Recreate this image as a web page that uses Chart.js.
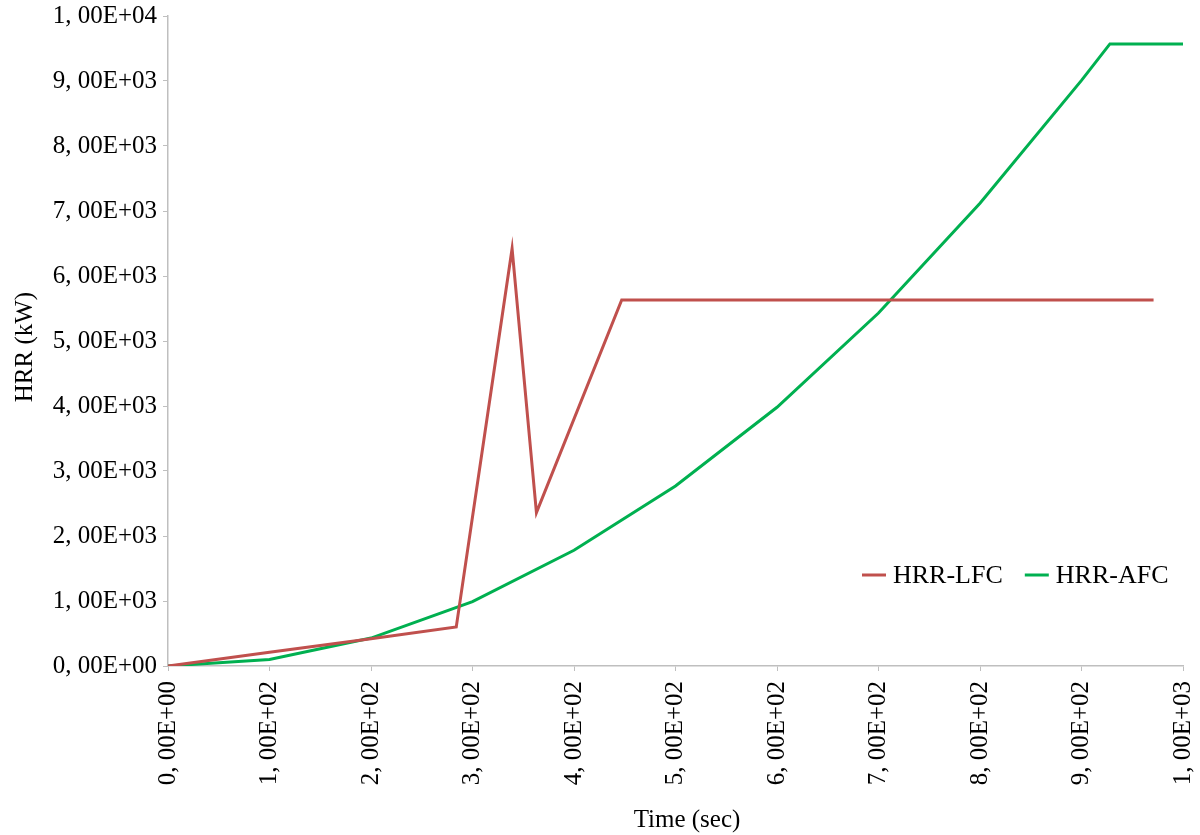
<!DOCTYPE html>
<html>
<head>
<meta charset="utf-8">
<title>HRR</title>
<script src="https://cdn.jsdelivr.net/npm/chart.js@4.4.1/dist/chart.umd.min.js"></script>
<style>
    body { margin: 0; background: #fff; }
    canvas { display: block; }
</style>
</head>
<body>
<canvas id="hrrChart" width="1200" height="835"></canvas>
<script>
// Data
const lfcTime = [0, 100, 200, 284, 339, 363, 447, 971];
const lfcHrr = [0, 210, 420, 600, 6420, 2360, 5630, 5630];
const afcTime = [0, 100, 200, 300, 400, 500, 600, 700, 800, 900, 928, 1000];
const afcHrr = [0, 100, 430, 990, 1780, 2770, 3980, 5430, 7120, 9010, 9570, 9570];

const seriesLabels = ['HRR-LFC', 'HRR-AFC'];
const seriesColors = ['#c0504d', '#00b050'];
const xTitle = 'Time (sec)';
const yTitle = 'HRR (kW)';

const axisColor = '#bfbfbf';
const fontFamily = '"Liberation Serif", "Times New Roman", serif';

// "1, 00E+04" style labels
function sciLabel(value) {
    if (value === 0) return '0, 00E+00';
    const exp = Math.floor(Math.log10(value) + 1e-9);
    const mant = value / Math.pow(10, exp);
    const e = String(exp).padStart(2, '0');
    return mant.toFixed(2).replace('.', ', ') + 'E+' + e;
}

function toPoints(xs, ys) {
    return xs.map((x, i) => ({ x: x, y: ys[i] }));
}

// Legend drawn inside the plot, right side
const insideLegend = {
    id: 'insideLegend',
    afterDraw(chart) {
        const ctx = chart.ctx;
        let x = 862;
        const y = 575;
        ctx.save();
        ctx.font = '26px ' + fontFamily;
        ctx.textBaseline = 'middle';
        ctx.textAlign = 'left';
        chart.data.datasets.forEach(ds => {
            ctx.strokeStyle = ds.borderColor;
            ctx.lineWidth = 3;
            ctx.beginPath();
            ctx.moveTo(x, y);
            ctx.lineTo(x + 24, y);
            ctx.stroke();
            x += 31;
            ctx.fillStyle = '#000';
            ctx.fillText(ds.label, x, y + 1);
            x += ctx.measureText(ds.label).width + 22;
        });
        ctx.restore();
    }
};

// Axis titles, placed like the original (slightly off-centre)
const axisTitles = {
    id: 'axisTitles',
    afterDraw(chart) {
        const ctx = chart.ctx;
        ctx.save();
        ctx.font = '25px ' + fontFamily;
        ctx.fillStyle = '#000';
        ctx.textAlign = 'center';
        ctx.textBaseline = 'alphabetic';
        ctx.fillText(xTitle, 687, 827);
        ctx.translate(32, 347);
        ctx.rotate(-Math.PI / 2);
        ctx.fillText(yTitle, 0, 0);
        ctx.restore();
    }
};

const ctx = document.getElementById('hrrChart').getContext('2d');

const hrrChart = new Chart(ctx, {
    type: 'line',
    data: {
        datasets: [{
            label: seriesLabels[0],
            data: toPoints(lfcTime, lfcHrr),
            borderColor: seriesColors[0],
            borderWidth: 3,
            pointRadius: 0,
            tension: 0,
            fill: false
        }, {
            label: seriesLabels[1],
            data: toPoints(afcTime, afcHrr),
            borderColor: seriesColors[1],
            borderWidth: 3,
            pointRadius: 0,
            tension: 0,
            fill: false
        }]
    },
    options: {
        responsive: false,
        devicePixelRatio: 1,
        animation: false,
        layout: {
            padding: { left: 0, right: 17, top: 16, bottom: 0 }
        },
        plugins: {
            legend: { display: false },
            tooltip: { enabled: false }
        },
        scales: {
            x: {
                type: 'linear',
                min: 0,
                max: 1000,
                border: { color: axisColor, width: 1.5 },
                grid: {
                    drawOnChartArea: false,
                    drawTicks: true,
                    tickLength: 5,
                    tickColor: axisColor
                },
                ticks: {
                    stepSize: 100,
                    autoSkip: false,
                    minRotation: 90,
                    maxRotation: 90,
                    padding: 10,
                    color: '#000',
                    font: { family: fontFamily, size: 25 },
                    callback: value => sciLabel(value)
                },
                afterFit: scale => {
                    scale.height = 169;
                    scale.paddingLeft = 0;
                    scale.paddingRight = 0;
                }
            },
            y: {
                type: 'linear',
                min: 0,
                max: 10000,
                border: { color: axisColor, width: 1.5 },
                grid: {
                    drawOnChartArea: false,
                    drawTicks: true,
                    tickLength: 5,
                    tickColor: axisColor
                },
                ticks: {
                    stepSize: 1000,
                    padding: 6,
                    color: '#000',
                    font: { family: fontFamily, size: 25 },
                    callback: value => sciLabel(value)
                },
                afterFit: scale => {
                    scale.width = 168;
                    scale.paddingTop = 0;
                    scale.paddingBottom = 0;
                }
            }
        }
    },
    plugins: [insideLegend, axisTitles]
});
</script>
</body>
</html>
